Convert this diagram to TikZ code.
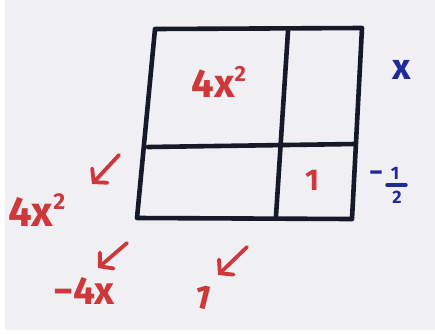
\documentclass[tikz,border=0pt]{standalone}
\usepackage{fontspec}
\setmainfont{Fira Sans}
\usetikzlibrary{arrows.meta}
\definecolor{paper}{RGB}{239,239,244}
\definecolor{inkblack}{RGB}{22,26,40}
\definecolor{inkred}{RGB}{206,56,58}
\definecolor{inkblue}{RGB}{30,42,150}
\tikzset{
  gridline/.style={line width=4.6pt, draw=inkblack, line cap=round, line join=round},
  redarrow/.style={line width=3.8pt, draw=inkred, line cap=round,
    -{Straight Barb[length=9pt,width=21pt,line cap=round]}},
  redbig/.style={text=inkred, inner sep=0pt, font=\bfseries\fontsize{40}{40}\selectfont},
  redmid/.style={text=inkred, inner sep=0pt, font=\bfseries\fontsize{32}{32}\selectfont},
  bluetxt/.style={text=inkblue, inner sep=0pt, font=\bfseries\fontsize{36}{36}\selectfont},
}
\newcommand{\sqtwo}[1]{\raisebox{0.42em}{\fontsize{#1}{#1}\selectfont 2}}
\begin{document}
\begin{tikzpicture}[x=1pt,y=-1pt]
  % paper
  \fill[white] (0,0) rectangle (435,333);
  \fill[paper] (5,0) rectangle (435,330);
  \useasboundingbox (0,0) rectangle (435,333);
  % grid corners
  \coordinate (tl) at (155,29);
  \coordinate (tr) at (362,28);
  \coordinate (br) at (352,219);
  \coordinate (bl) at (137,218);
  \coordinate (ml) at (148,147);
  \coordinate (mr) at (355,144);
  \coordinate (vt) at (288,31);
  \coordinate (vb) at (276,216);
  \draw[gridline] (tl) -- (tr) -- (br) -- (bl) -- cycle;
  \draw[gridline] (ml) -- (mr);
  \draw[gridline] (vt) -- (vb);
  % cell labels
  \node[redbig] (sq) at (219,82) {4x\sqtwo{22}};
  \node[redmid, font=\fontsize{30}{30}\selectfont\bfseries] (one) at (312,180) {1};
  % side labels
  \node[bluetxt] (x) at (402,70) {x};
  \node[bluetxt, font=\bfseries\fontsize{27}{27}\selectfont] (minus) at (376,176) {−};
  \node[bluetxt, font=\bfseries\fontsize{18}{18}\selectfont] (num) at (395,173) {1};
  \node[bluetxt, font=\bfseries\fontsize{18}{18}\selectfont] (den) at (397,197) {2};
  \coordinate (barl) at (387,185);
  \coordinate (barr) at (406,185);
  \draw[line width=3.4pt, draw=inkblue, line cap=round] (barl) -- (barr);
  % results
  \node[redbig, font=\bfseries\fontsize{42}{42}\selectfont] (r1) at (37,210) {4x\sqtwo{23}};
  \node[redmid, font=\bfseries\fontsize{39}{39}\selectfont] (r2) at (84,291) {−4x};
  \node[redmid, rotate=-14, font=\bfseries\fontsize{34}{34}\selectfont] (r3) at (203,297) {1};
  % arrows
  \coordinate (a1s) at (119,155); \coordinate (a1e) at (92,184);
  \coordinate (a2s) at (127,243); \coordinate (a2e) at (98,268);
  \coordinate (a3s) at (247,247); \coordinate (a3e) at (218,275);
  \draw[redarrow] (a1s) -- (a1e);
  \draw[redarrow] (a2s) -- (a2e);
  \draw[redarrow] (a3s) -- (a3e);
\end{tikzpicture}
\end{document}
